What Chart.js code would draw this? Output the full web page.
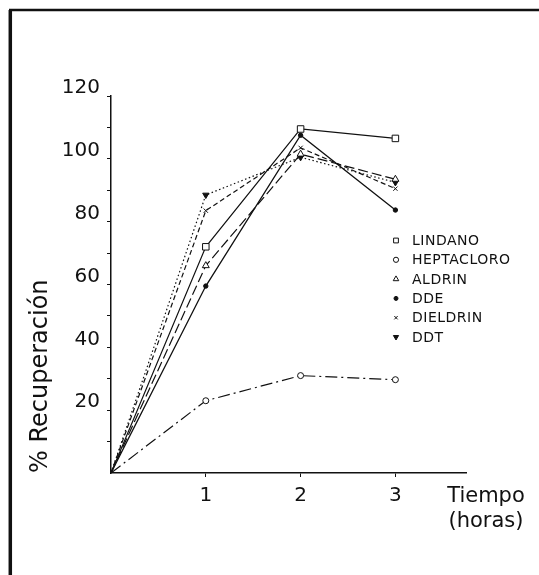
<!DOCTYPE html>
<html>
<head>
<meta charset="utf-8">
<script src="https://cdn.jsdelivr.net/npm/chart.js@4/dist/chart.umd.min.js"></script>
<style>
  html, body { margin: 0; padding: 0; background: #fff; }
</style>
</head>
<body>
<canvas id="grafico" width="539" height="575"></canvas>
<script>
// tiempo (horas) y % de recuperacion de cada plaguicida
const tiempos = [0, 1, 2, 3];
const lindano = [0, 72, 109.5, 106.5];
const heptacloro = [0, 23, 31, 29.7];
const aldrin = [0, 66, 101.5, 93.5];
const dde = [0, 59.5, 107.5, 83.7];
const dieldrin = [0, 83.5, 103.5, 90.5];
const ddt = [0, 88.5, 100.5, 92.5];

const etiquetasY = [20, 40, 60, 80, 100, 120];
const etiquetasX = [1, 2, 3];
const nombres = ['LINDANO', 'HEPTACLORO', 'ALDRIN', 'DDE', 'DIELDRIN', 'DDT'];

const tinta = '#111';
const fuente = '"DejaVu Sans", sans-serif';

const puntos = serie => tiempos.map((t, i) => ({ x: t, y: serie[i] }));

function serie(label, valores, estilo) {
    return Object.assign({
        label,
        data: puntos(valores),
        borderColor: tinta,
        borderWidth: 1.2,
        pointBorderColor: tinta,
        pointBackgroundColor: '#fff',
        pointBorderWidth: 1,
        pointRadius: ctx => ctx.dataIndex === 0 ? 0 : estilo.r,
        tension: 0
    }, estilo.opts);
}

const datasets = [
    serie(nombres[0], lindano, { r: 4.6, opts: { pointStyle: 'rect' } }),
    serie(nombres[1], heptacloro, { r: 3, opts: { pointStyle: 'circle', borderDash: [12, 4, 2, 4] } }),
    serie(nombres[2], aldrin, { r: 4, opts: { pointStyle: 'triangle', borderDash: [10, 4] } }),
    serie(nombres[3], dde, { r: 2.2, opts: { pointStyle: 'circle', pointBackgroundColor: tinta, borderWidth: 1.3 } }),
    serie(nombres[4], dieldrin, { r: 3, opts: { pointStyle: 'crossRot', borderDash: [5, 3] } }),
    serie(nombres[5], ddt, { r: 3.6, opts: { pointStyle: 'triangle', pointRotation: 180, pointBackgroundColor: tinta, borderDash: [1.5, 2.5] } })
];

// marco, leyenda y titulo del eje x
const extras = {
    id: 'extras',
    beforeDraw(chart) {
        const ctx = chart.ctx;
        ctx.save();
        ctx.fillStyle = '#fff';
        ctx.fillRect(0, 0, chart.width, chart.height);
        ctx.strokeStyle = tinta;
        ctx.lineWidth = 3.5;
        ctx.beginPath();
        ctx.moveTo(10.3, 580);
        ctx.lineTo(10.3, 10);
        ctx.lineWidth = 3.5;
        ctx.stroke();
        ctx.beginPath();
        ctx.lineWidth = 2.5;
        ctx.moveTo(9, 10);
        ctx.lineTo(545, 10);
        ctx.stroke();
        ctx.restore();
    },
    afterDraw(chart) {
        const ctx = chart.ctx;
        ctx.save();
        ctx.setLineDash([]);
        chart.data.datasets.forEach((ds, i) => {
            const y = 240.5 + i * 19.3;
            ctx.strokeStyle = tinta;
            ctx.fillStyle = ds.pointBackgroundColor;
            ctx.lineWidth = 1;
            const r = { 0: 3.4, 1: 2.6, 2: 3.2, 3: 2, 4: 2.4, 5: 3 }[i];
            Chart.helpers.drawPoint(ctx, {
                pointStyle: ds.pointStyle,
                radius: r,
                rotation: ds.pointRotation || 0,
                borderWidth: 1
            }, 396, y);
            ctx.fillStyle = tinta;
            ctx.font = '14px ' + fuente;
            ctx.textBaseline = 'middle';
            ctx.textAlign = 'left';
            ctx.letterSpacing = '0.5px';
            ctx.fillText(ds.label, 412, y + 1);
        });
        ctx.letterSpacing = '0px';
        ctx.font = '21px ' + fuente;
        ctx.textAlign = 'center';
        ctx.textBaseline = 'middle';
        ctx.fillText('Tiempo', 486, 497);
        ctx.fillText('(horas)', 486, 522);
        ctx.restore();
    }
};

new Chart(document.getElementById('grafico'), {
    type: 'line',
    data: { datasets },
    options: {
        responsive: false,
        animation: false,
        layout: { padding: { top: 96, right: 72.5, left: 0, bottom: 0 } },
        plugins: {
            legend: { display: false },
            tooltip: { enabled: false }
        },
        scales: {
            x: {
                type: 'linear',
                min: 0,
                max: 3.75,
                afterFit: s => { s.height = 102; },
                afterBuildTicks: s => { s.ticks = etiquetasX.map(v => ({ value: v })); },
                border: { display: true, color: tinta, width: 1.5 },
                grid: { display: true, drawOnChartArea: false, drawTicks: true, tickLength: 4, color: tinta },
                ticks: {
                    color: tinta,
                    padding: 7,
                    maxRotation: 0,
                    font: { family: fuente, size: 20 },
                    callback: v => String(v)
                }
            },
            y: {
                min: 0,
                max: 120,
                afterFit: s => { s.width = 111; },
                afterBuildTicks: s => {
                    const t = [];
                    for (let v = 10; v <= 120; v += 10) t.push({ value: v });
                    s.ticks = t;
                },
                border: { display: true, color: tinta, width: 1.5 },
                grid: { display: true, drawOnChartArea: false, drawTicks: true, tickLength: 4, color: tinta },
                ticks: {
                    color: tinta,
                    padding: 7,
                    labelOffset: -8,
                    font: { family: fuente, size: 20 },
                    callback: v => etiquetasY.includes(v) ? String(v) : ''
                },
                title: {
                    display: true,
                    text: '% Recuperación',
                    color: tinta,
                    align: 'start',
                    font: { family: fuente, size: 24 },
                    padding: { top: 26, bottom: 0 }
                }
            }
        }
    },
    plugins: [extras]
});
</script>
</body>
</html>
